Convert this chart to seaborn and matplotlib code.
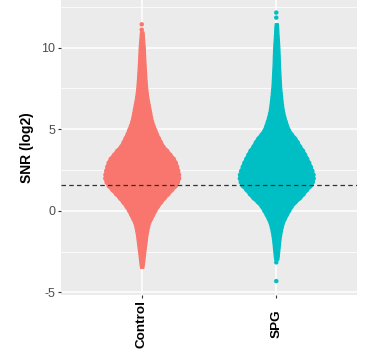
import numpy as np
import pandas as pd
import matplotlib
matplotlib.use("Agg")
import matplotlib.pyplot as plt
from matplotlib.ticker import FixedLocator
import seaborn as sns

# ---- data ----
groups = ["Control", "SPG"]
colors = ["#F8766D", "#00BFC4"]

# SNR (log2) levels and the relative density (swarm half-width) read at each level
snr_levels = [-3.5, -3.25, -3.0, -2.75, -2.5, -2.25, -2.0, -1.75, -1.5, -1.25,
              -1.0, -0.75, -0.5, -0.25, 0.0, 0.25, 0.5, 0.75, 1.0, 1.25,
              1.5, 1.75, 2.0, 2.25, 2.5, 2.75, 3.0, 3.25, 3.5, 3.75,
              4.0, 4.25, 4.5, 4.75, 5.0, 5.25, 5.5, 5.75, 6.0, 6.25,
              6.5, 6.75, 7.0, 7.25, 7.5, 7.75, 8.0, 8.25, 8.5, 8.75,
              9.0, 9.25, 9.5, 9.75, 10.0, 10.25, 10.5, 10.75, 11.0, 11.25,
              11.5]
control_density = [1.6, 2.1, 2.6, 3.0, 3.5, 4.0, 4.5, 5.0, 5.5, 6.2,
                   7.0, 8.0, 10.0, 12.0, 14.0, 16.5, 19.5, 22.7, 26.5, 30.0,
                   34.0, 36.0, 37.5, 37.2, 36.3, 35.3, 34.0, 32.0, 28.5, 25.5,
                   21.5, 19.5, 17.5, 15.5, 14.0, 12.3, 11.0, 10.0, 9.3, 8.5,
                   7.8, 7.0, 6.3, 5.8, 5.3, 5.0, 4.7, 4.4, 4.2, 3.9,
                   3.7, 3.5, 3.3, 3.1, 3.0, 2.6, 2.3, 2.0, 1.8, 0.0,
                   0.0]
spg_density = [0.0, 0.0, 2.0, 2.4, 2.8, 3.2, 3.6, 4.0, 4.6, 5.3,
               6.2, 7.2, 9.0, 11.0, 13.3, 15.5, 19.0, 23.5, 27.0, 30.0,
               34.0, 36.0, 37.0, 36.8, 35.5, 34.0, 32.5, 30.5, 28.5, 26.5,
               23.5, 21.5, 19.0, 15.5, 12.8, 11.3, 10.0, 8.8, 7.8, 7.0,
               6.5, 6.0, 5.6, 5.2, 4.8, 4.5, 4.3, 4.1, 3.9, 3.7,
               3.5, 3.4, 3.3, 3.1, 3.0, 2.7, 2.5, 2.2, 2.0, 1.8,
               1.5]
# isolated points outside the dense body
control_outliers = [11.43, 11.10]
spg_outliers = [12.15, 11.84, -3.16, -4.31]

threshold = 1.585
y_ticks = [-5, 0, 5, 10]
y_minor = [-2.5, 2.5, 7.5, 12.5]

# ---- build tables ----
rows = []
for g, dens in zip(groups, [control_density, spg_density]):
    counts = np.round(np.array(dens) * 10).astype(int)
    vals = np.repeat(snr_levels, counts)
    rows.append(pd.DataFrame({"group": g, "snr": vals}))
df = pd.concat(rows, ignore_index=True)

out_df = pd.concat([
    pd.DataFrame({"group": "Control", "snr": control_outliers}),
    pd.DataFrame({"group": "SPG", "snr": spg_outliers}),
], ignore_index=True)

# ---- style ----
sns.set_theme(style="darkgrid", rc={"axes.facecolor": "#EBEBEB",
                                    "grid.color": "white",
                                    "figure.facecolor": "white"})
plt.rcParams["font.family"] = ["Liberation Sans", "DejaVu Sans"]

fig = plt.figure(figsize=(3.8, 3.55), dpi=100)
ax = fig.add_axes([61 / 380, 1 - 294.5 / 355, (357 - 61) / 380, 294.5 / 355])
ax.set_axisbelow(True)

bw = 0.13 / df["snr"].std()
sns.violinplot(data=df, x="group", y="snr", hue="group", order=groups,
               hue_order=groups, palette=colors, saturation=1, inner=None,
               cut=0, density_norm="width", width=0.573, bw_method=bw,
               gridsize=600, linewidth=0, legend=False, ax=ax)
for c in ax.collections:
    fc = c.get_facecolor()
    c.set_edgecolor(fc)
    c.set_linewidth(0.9)

sns.stripplot(data=out_df, x="group", y="snr", hue="group", order=groups,
              hue_order=groups, palette=colors, jitter=False, size=3.2,
              linewidth=0, legend=False, ax=ax)

ax.axhline(threshold, color="#333333", linewidth=0.9, dashes=(3.6, 2.6),
           zorder=5)

ax.set_xlim(-0.6, 1.6)
ax.set_ylim(-5.13, 12.92)
ax.set_yticks(y_ticks)
ax.set_yticklabels([str(v) for v in y_ticks])
ax.yaxis.set_minor_locator(FixedLocator(y_minor))

ax.grid(which="major", axis="both", color="white", linewidth=1.1)
ax.grid(which="minor", axis="y", color="white", linewidth=0.55)

for s in ax.spines.values():
    s.set_visible(False)

ax.tick_params(axis="y", which="major", length=2.5, width=0.8, color="#333333",
               pad=1.5, labelsize=9, labelcolor="#4D4D4D", left=True)
ax.tick_params(axis="y", which="minor", length=0)
ax.tick_params(axis="x", which="major", length=2.5, width=0.8, color="#333333",
               pad=18.7, bottom=True)
ax.set_xticks([0, 1])
ax.set_xticklabels(groups, rotation=90, fontweight="bold", fontsize=9.7,
                   va="center", ha="center", color="black")

ax.set_xlabel("")
ax.set_ylabel("SNR (log2)", fontweight="bold", fontsize=10, labelpad=5.5,
              color="black")

fig.savefig("out.png", dpi=100)
